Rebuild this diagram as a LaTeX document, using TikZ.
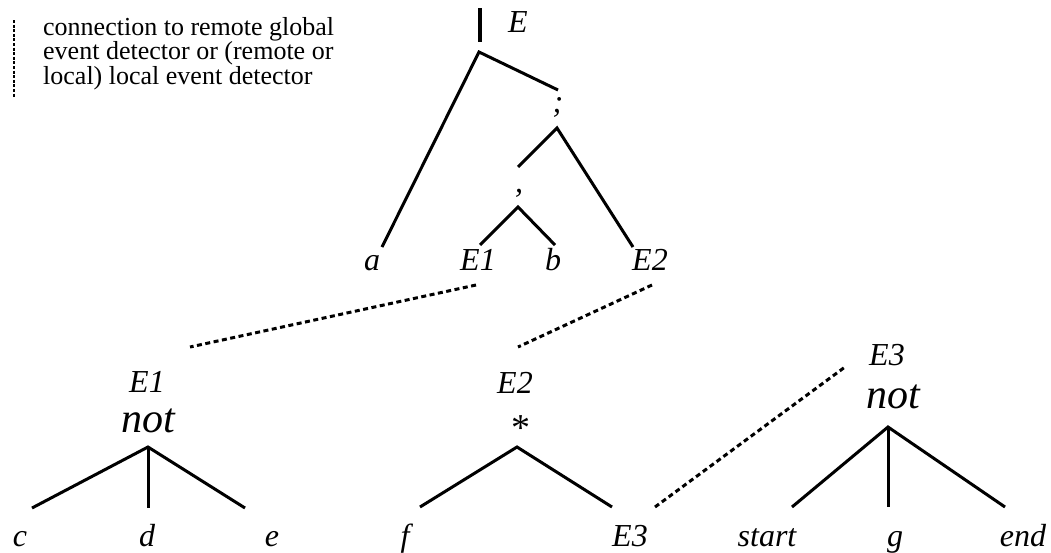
\documentclass[tikz,border=0pt]{standalone}
\usepackage{fontspec}
\setmainfont{Liberation Serif}
\begin{document}
\begin{tikzpicture}[x=1pt,y=-1pt,
  lbl/.style={font=\fontsize{32}{34}\selectfont\itshape, inner sep=0pt, anchor=base},
  big/.style={font=\fontsize{42}{44}\selectfont\itshape, inner sep=0pt, anchor=base},
  legendtext/.style={font=\fontsize{26}{24.5}\selectfont, inner sep=0pt, align=left, anchor=north west},
  edge/.style={line width=3pt},
  link/.style={line width=3pt, dash pattern=on 5pt off 3.5pt},
  keylink/.style={line width=2.6pt, dash pattern=on 3pt off 1.6pt},
  bar/.style={line width=3.8pt}]
\useasboundingbox (0,0) rectangle (1051,552);

% legend
\coordinate (legA) at (14,20);
\coordinate (legB) at (14,97);
\draw[keylink] (legA) -- (legB);
\node[legendtext] (legend) at (43,17) {connection to remote global\\event detector or (remote or\\local) local event detector};

% top tree
\coordinate (barT) at (480,8);
\coordinate (barB) at (480,42);
\draw[bar] (barT) -- (barB);
\node[lbl] (E) at (518,32) {E};
\node[lbl] (semi) at (558,112) {;};
\node[lbl] (comma) at (519,192) {,};
\node[lbl] (a) at (372,270) {a};
\node[lbl] (E1t) at (478,270) {E1};
\node[lbl] (b) at (553,270) {b};
\node[lbl] (E2t) at (650,270) {E2};

\coordinate (root) at (479,52);
\coordinate (aTop) at (382,247);
\coordinate (semiTop) at (558,90);
\coordinate (semiBot) at (557,128);
\coordinate (commaTop) at (518,167);
\coordinate (E2tTop) at (633,247);
\coordinate (commaBot) at (518,207);
\coordinate (E1tTop) at (480,245);
\coordinate (bTop) at (555,245);
\draw[edge] (aTop) -- (root) -- (semiTop);
\draw[edge] (commaTop) -- (semiBot) -- (E2tTop);
\draw[edge] (E1tTop) -- (commaBot) -- (bTop);

% links
\coordinate (E1tLink) at (476,285);
\coordinate (E1Link) at (190,347);
\coordinate (E2tLink) at (652,285);
\coordinate (E2Link) at (518,347);
\coordinate (E3lLink) at (655,507);
\coordinate (E3Link) at (845,367);
\draw[link] (E1tLink) -- (E1Link);
\draw[link] (E2tLink) -- (E2Link);
\draw[link] (E3lLink) -- (E3Link);

% tree E1
\node[lbl] (E1) at (147,392) {E1};
\node[big] (not1) at (148,432) {not};
\node[lbl] (c) at (20,546) {c};
\node[lbl] (d) at (147,546) {d};
\node[lbl] (e) at (272,546) {e};
\coordinate (ap1) at (148,447);
\coordinate (cTop) at (32,508);
\coordinate (dTop) at (148,508);
\coordinate (eTop) at (245,508);
\draw[edge] (cTop) -- (ap1) -- (eTop);
\draw[edge] (ap1) -- (dTop);

% tree E2
\node[lbl] (E2) at (515,393) {E2};
\node[inner sep=0pt, font=\fontsize{38}{40}\selectfont] (star) at (521,428) {*};
\node[lbl] (f) at (405,546) {f};
\node[lbl] (E3l) at (630,546) {E3};
\coordinate (ap2) at (517,447);
\coordinate (fTop) at (420,507);
\coordinate (E3lTop) at (612,507);
\draw[edge] (fTop) -- (ap2) -- (E3lTop);

% tree E3
\node[lbl] (E3) at (887,365) {E3};
\node[big] (not3) at (893,408) {not};
\node[lbl] (start) at (767,546) {start};
\node[lbl] (g) at (895,546) {g};
\node[lbl] (end) at (1023,546) {end};
\coordinate (ap3) at (888,427);
\coordinate (startTop) at (792,507);
\coordinate (gTop) at (888,507);
\coordinate (endTop) at (1005,507);
\draw[edge] (startTop) -- (ap3) -- (endTop);
\draw[edge] (ap3) -- (gTop);
\end{tikzpicture}
\end{document}
